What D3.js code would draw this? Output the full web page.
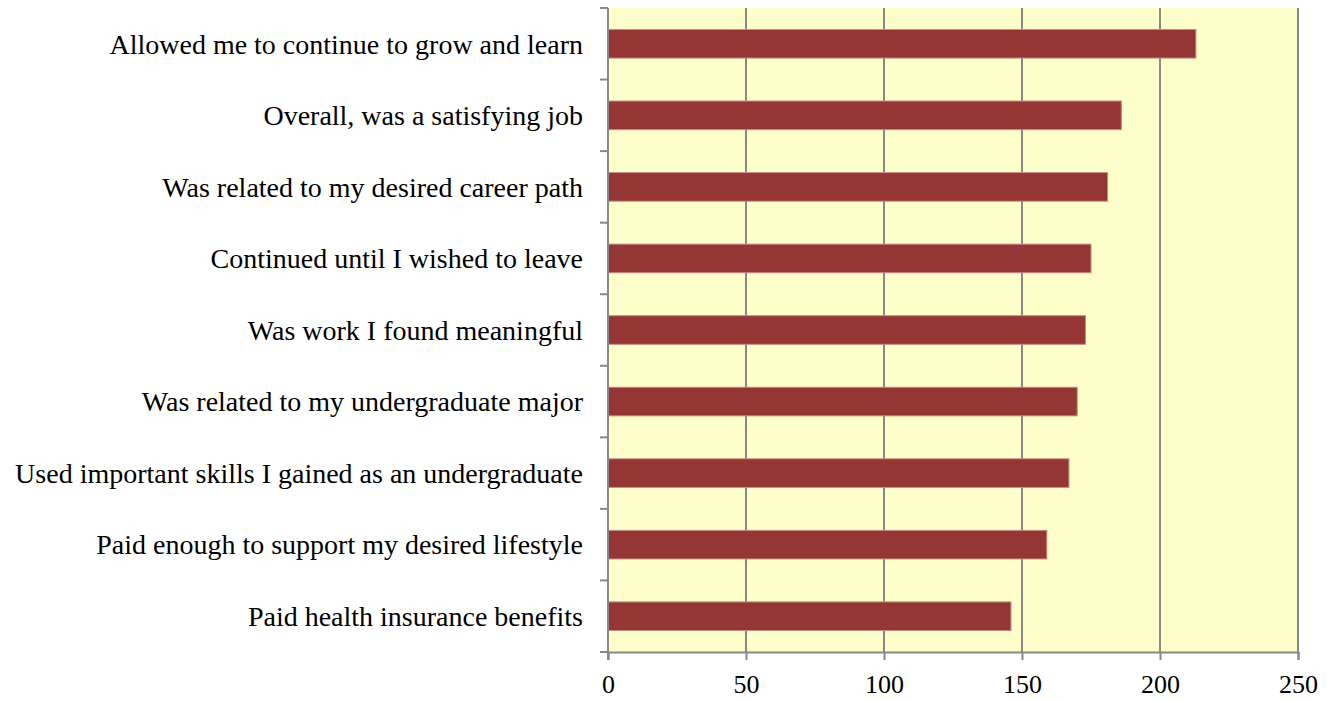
<!DOCTYPE html>
<html>
<head>
<meta charset="utf-8">
<script src="https://cdn.jsdelivr.net/npm/d3@7"></script>
<style>
  body { margin: 0; background: #fff; }
  text { font-family: "Liberation Serif", "Times New Roman", serif; fill: #000; }
</style>
</head>
<body>
<svg id="chart" width="1333" height="702"></svg>
<script>
// data, top to bottom
const categories = [
  "Allowed me to continue to grow and learn",
  "Overall, was a satisfying job",
  "Was related to my desired career path",
  "Continued until I wished to leave",
  "Was work I found meaningful",
  "Was related to my undergraduate major",
  "Used important skills I gained as an undergraduate",
  "Paid enough to support my desired lifestyle",
  "Paid health insurance benefits"
];
const values = [213, 186, 181, 175, 173, 170, 167, 159, 146];
const xTicks = [0, 50, 100, 150, 200, 250];

const margin = { top: 8, right: 35, bottom: 50, left: 608 };
const width = 1333 - margin.left - margin.right;
const height = 702 - margin.top - margin.bottom;

const svg = d3.select("#chart")
    .append("g")
    .attr("transform", `translate(${margin.left},${margin.top})`);

const x = d3.scaleLinear().domain([0, 250]).range([0, width]);
const y = d3.scaleBand().domain(categories).range([0, height])
    .paddingInner(0.6).paddingOuter(0.3);
const yCat = d3.scaleBand().domain(categories).range([0, height]);

// plot background
svg.append("rect")
    .attr("width", width)
    .attr("height", height)
    .attr("fill", "#FFFFCC");

// vertical gridlines
svg.selectAll(".grid")
    .data(xTicks.slice(1))
    .enter()
    .append("line")
    .attr("class", "grid")
    .attr("x1", d => x(d)).attr("x2", d => x(d))
    .attr("y1", 0).attr("y2", height)
    .attr("stroke", "#888")
    .attr("stroke-width", 2);

// bars
svg.selectAll(".bar")
    .data(values)
    .enter()
    .append("rect")
    .attr("class", "bar")
    .attr("x", 0)
    .attr("y", (d, i) => y(categories[i]))
    .attr("width", d => x(d))
    .attr("height", y.bandwidth())
    .attr("fill", "#943634")
    .attr("stroke", "#C98A86")
    .attr("stroke-width", 1);

// bottom axis
const xAxis = svg.append("g")
    .attr("transform", `translate(0,${height})`)
    .call(d3.axisBottom(x).tickValues(xTicks).tickSize(8).tickPadding(15));
xAxis.select(".domain").attr("stroke", "#888").attr("stroke-width", 2);
xAxis.selectAll(".tick line").attr("stroke", "#888").attr("stroke-width", 2);
xAxis.selectAll("text")
    .style("font-family", "'Liberation Serif', serif")
    .style("font-size", "26px")
    .attr("fill", "#000");

// left axis: ticks at category boundaries
const bounds = categories.map(c => yCat(c)).concat([height]);
svg.append("line")
    .attr("x1", 0).attr("x2", 0)
    .attr("y1", 0).attr("y2", height + 8)
    .attr("stroke", "#888")
    .attr("stroke-width", 2);
svg.selectAll(".ytick")
    .data(bounds)
    .enter()
    .append("line")
    .attr("class", "ytick")
    .attr("x1", -8).attr("x2", 0)
    .attr("y1", d => d).attr("y2", d => d)
    .attr("stroke", "#888")
    .attr("stroke-width", 2);

// category labels
svg.selectAll(".label")
    .data(categories)
    .enter()
    .append("text")
    .attr("class", "label")
    .attr("x", -25)
    .attr("y", d => yCat(d) + yCat.bandwidth() / 2)
    .attr("dy", "0.35em")
    .attr("text-anchor", "end")
    .style("font-size", "28px")
    .text(d => d);
</script>
</body>
</html>
